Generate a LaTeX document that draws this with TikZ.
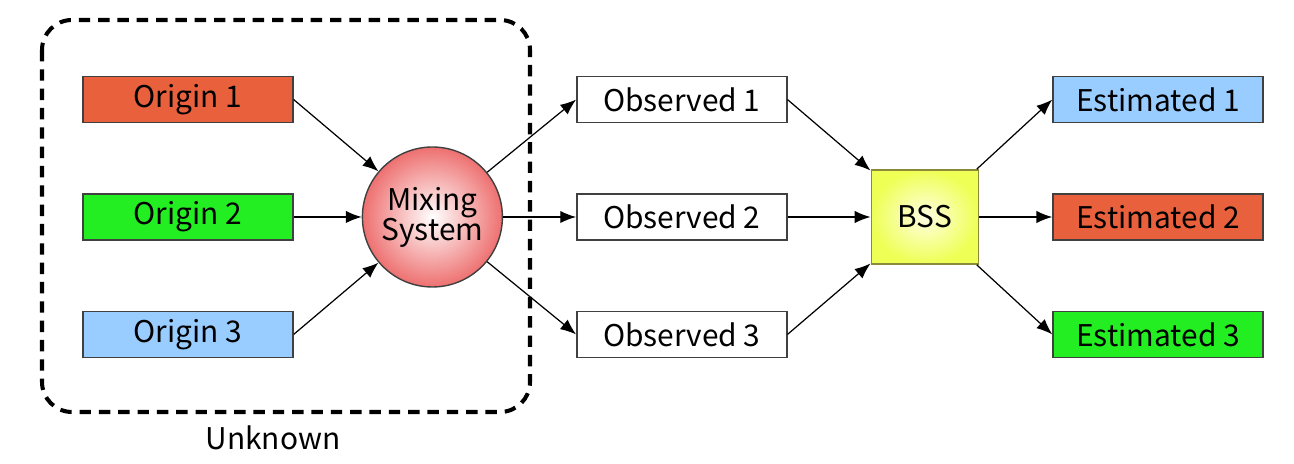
\documentclass[tikz,border=0pt]{standalone}
\usepackage{fontspec}
\setmainfont{Noto Sans CJK JP}
\definecolor{srcred}{HTML}{E8603C}
\definecolor{srcgreen}{HTML}{22EE22}
\definecolor{srcblue}{HTML}{99CCFF}
\definecolor{mixpink}{HTML}{EE7070}
\definecolor{bssyellow}{HTML}{EEFF55}
\definecolor{bssolive}{HTML}{8A8A3A}
\usetikzlibrary{
    arrows.meta,
    positioning,
    calc
}
\tikzstyle{signal} = [
    rectangle,
    draw=black!75,
    line width=0.8pt,
    minimum width=4.2cm,
    minimum height=0.92cm,
    text centered,
    font=\fontsize{17}{20}\selectfont
]
\tikzstyle{mixer} = [
    circle,
    draw=black!75,
    line width=0.8pt,
    minimum size=2.8cm,
    inner color=white,
    outer color=mixpink,
    align=center,
    font=\fontsize{17}{20}\selectfont
]
\tikzstyle{separator} = [
    rectangle,
    draw=bssolive,
    line width=1pt,
    minimum width=2.14cm,
    minimum height=1.88cm,
    inner color=white!60!yellow!30,
    outer color=bssyellow,
    font=\fontsize{17}{20}\selectfont
]
\tikzstyle{arrow} = [
    -{Latex[length=9pt,width=7pt]},
    line width=0.7pt,
    draw=black
]
\tikzstyle{unknownbox} = [
    draw=black,
    line width=2.3pt,
    dash pattern=on 6.5pt off 4.5pt,
    rounded corners=0.6cm
]

\begin{document}
\begin{tikzpicture}
    \useasboundingbox (0,0) rectangle (25.88,-9.28);

    % Sources
    \node[signal, fill=srcgreen] (origin2) at (3.76,-4.34) {Origin 2};
    \node[signal, fill=srcred, above=1.4cm of origin2] (origin1) {Origin 1};
    \node[signal, fill=srcblue, below=1.4cm of origin2] (origin3) {Origin 3};

    % Mixing
    \node[mixer, right=1.36cm of origin2] (mixing) {Mixing\\[-3pt]System};

    % Observations
    \node[signal, fill=white, right=1.46cm of mixing] (observed2) {Observed 2};
    \node[signal, fill=white, above=1.4cm of observed2] (observed1) {Observed 1};
    \node[signal, fill=white, below=1.4cm of observed2] (observed3) {Observed 3};

    % Separation
    \node[separator, right=1.66cm of observed2] (bss) {BSS};

    % Estimates
    \node[signal, fill=srcred, right=1.46cm of bss] (estimated2) {Estimated 2};
    \node[signal, fill=srcblue, above=1.4cm of estimated2] (estimated1) {Estimated 1};
    \node[signal, fill=srcgreen, below=1.4cm of estimated2] (estimated3) {Estimated 3};

    % Unknown part
    \draw[unknownbox] (0.84,-0.4) rectangle (10.6,-8.24);
    \node[font=\fontsize{17}{20}\selectfont] (unknown) at (5.46,-8.76) {Unknown};

    % Arrows
    \draw[arrow] (origin1.east) -- (mixing);
    \draw[arrow] (origin2) -- (mixing);
    \draw[arrow] (origin3.east) -- (mixing);
    \draw[arrow] (mixing) -- (observed1.west);
    \draw[arrow] (mixing) -- (observed2);
    \draw[arrow] (mixing) -- (observed3.west);
    \draw[arrow] (observed1.east) -- (bss);
    \draw[arrow] (observed2) -- (bss);
    \draw[arrow] (observed3.east) -- (bss);
    \draw[arrow] (bss) -- (estimated1.west);
    \draw[arrow] (bss) -- (estimated2);
    \draw[arrow] (bss) -- (estimated3.west);
\end{tikzpicture}
\end{document}
